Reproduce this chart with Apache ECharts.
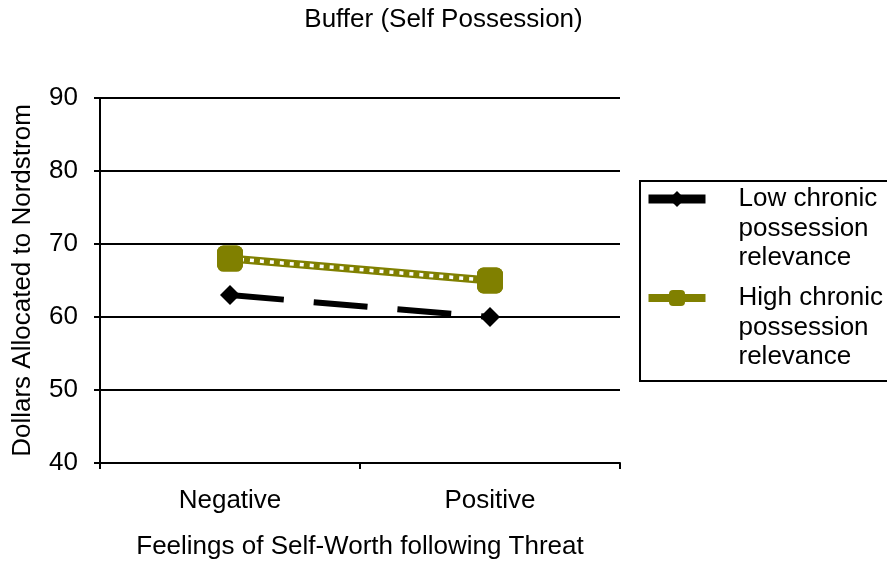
<!DOCTYPE html>
<html>
<head>
<meta charset="utf-8">
<script src="https://cdn.jsdelivr.net/npm/echarts@6/dist/echarts.min.js"></script>
<style>html,body{margin:0;padding:0;background:#fff}#c{width:887px;height:565px}</style>
</head>
<body>
<div id="c"></div>
<script>
const titleText = 'Buffer (Self Possession)';
const categories = ['Negative', 'Positive'];
const lowName = 'Low chronic possession relevance';
const highName = 'High chronic possession relevance';
const lowLegendLines = ['Low chronic', 'possession', 'relevance'];
const highLegendLines = ['High chronic', 'possession', 'relevance'];
const lowValues = [63, 60];
const highValues = [68, 65];
const yTicks = { min: 40, max: 90, interval: 10 };
const xAxisTitle = 'Feelings of Self-Worth following Threat';
const yAxisTitle = 'Dollars Allocated to Nordstrom';

const FONT = '"Liberation Sans", Arial, sans-serif';
const FS = 26;
const OLIVE = '#808000';

const chart = echarts.init(document.getElementById('c'), null, { renderer: 'canvas' });
chart.setOption({
  animation: false,
  backgroundColor: '#fff',
  textStyle: { fontFamily: FONT, color: '#000' },
  title: {
    text: titleText, left: 'center', top: 7, padding: 0,
    textStyle: { fontFamily: FONT, fontSize: FS, fontWeight: 'normal', color: '#000' }
  },
  grid: { left: 100, right: 267, top: 98, bottom: 101, containLabel: false },
  legend: {
    orient: 'vertical', left: 640, top: 181,
    padding: [-55.75, 40, 9.25, 4],
    itemGap: -48.5, itemWidth: 57, itemHeight: 20,
    borderColor: '#000', borderWidth: 2, backgroundColor: '#fff',
    selectedMode: false,
    formatter: function (n) {
      const lines = n === lowName ? lowLegendLines : highLegendLines;
      return '\n\n' + lines.join('\n');
    },
    textStyle: { fontFamily: FONT, fontSize: FS, color: '#000', lineHeight: 29.5, padding: [0, 0, 0, 28] },
    data: [
      { name: lowName, lineStyle: { type: 'solid', width: 9 } },
      { name: highName, lineStyle: { type: 'solid', width: 8 } }
    ]
  },
  xAxis: {
    type: 'category', data: categories, boundaryGap: true,
    name: xAxisTitle, nameLocation: 'middle', nameGap: 71,
    nameTextStyle: { fontFamily: FONT, fontSize: FS, color: '#000' },
    axisLine: { lineStyle: { color: '#000', width: 2 } },
    axisTick: { show: true, length: 6, lineStyle: { color: '#000', width: 2 } },
    axisLabel: { fontFamily: FONT, fontSize: FS, color: '#000', margin: 25 },
    splitLine: { show: false }
  },
  yAxis: {
    type: 'value', min: yTicks.min, max: yTicks.max, interval: yTicks.interval,
    name: yAxisTitle, nameLocation: 'middle', nameGap: 64, nameRotate: 90,
    nameTextStyle: { fontFamily: FONT, fontSize: FS, color: '#000' },
    axisLine: { show: true, lineStyle: { color: '#000', width: 2 } },
    axisTick: { show: true, length: 6, lineStyle: { color: '#000', width: 2 } },
    axisLabel: { fontFamily: FONT, fontSize: FS, color: '#000', margin: 22 },
    splitLine: { show: true, lineStyle: { color: '#000', width: 2 } }
  },
  series: [
    {
      name: lowName, type: 'line', data: lowValues,
      symbol: 'diamond', symbolSize: 20,
      itemStyle: { color: '#000' },
      lineStyle: { color: '#000', width: 6, type: [54, 30], cap: 'butt' },
      emphasis: { disabled: true }, silent: true, z: 3
    },
    {
      name: highName, type: 'line', data: highValues,
      symbol: 'roundRect', symbolSize: 26,
      itemStyle: { color: OLIVE },
      lineStyle: { color: OLIVE, width: 8 },
      emphasis: { disabled: true }, silent: true, z: 4
    },
    {
      name: 'highOverlay', type: 'line', data: highValues,
      symbol: 'roundRect', symbolSize: 26,
      itemStyle: { color: OLIVE },
      lineStyle: { color: '#fff', width: 3.5, type: [4, 6] },
      emphasis: { disabled: true }, silent: true, z: 5
    }
  ]
});
</script>
</body>
</html>
